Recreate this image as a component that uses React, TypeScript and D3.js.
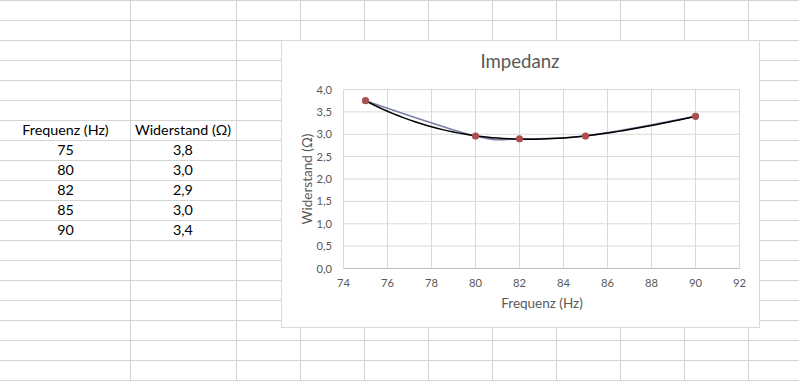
import React from "react";
import * as d3 from "d3";

const frequencies = [75, 80, 82, 85, 90];
const resistances = [3.75, 2.96, 2.9, 2.96, 3.4];
const xTicks = [74, 76, 78, 80, 82, 84, 86, 88, 90, 92];
const yTicks = [0, 0.5, 1, 1.5, 2, 2.5, 3, 3.5, 4];
const headerLabels = ["Frequenz (Hz)", "Widerstand (Ω)"];
const chartTitle = "Impedanz";
const xTitle = "Frequenz (Hz)";
const yTitle = "Widerstand (Ω)";
const trendOrder = 3;

const W = 799;
const H = 381;

// spreadsheet geometry
const colEdges = [130, 236, 300, 364, 428, 492, 556, 620, 684, 748];
const rowEdges = d3.range(0, 400, 20);

function polyFit(xs: number[], ys: number[], order: number) {
  // least squares polynomial fit (Excel polynomial trendline)
  const n = xs.length;
  const mx = d3.mean(xs) as number;
  const u = xs.map((x) => x - mx);
  const m = order + 1;
  const M: number[][] = [];
  for (let r = 0; r < m; r++) {
    const row: number[] = [];
    for (let c = 0; c < m; c++) row.push(d3.sum(d3.range(n), (i) => u[i] ** (r + c)));
    row.push(d3.sum(d3.range(n), (i) => u[i] ** r * ys[i]));
    M.push(row);
  }
  for (let i = 0; i < m; i++) {
    let p = i;
    for (let j = i + 1; j < m; j++) if (Math.abs(M[j][i]) > Math.abs(M[p][i])) p = j;
    [M[i], M[p]] = [M[p], M[i]];
    for (let j = i + 1; j < m; j++) {
      const f = M[j][i] / M[i][i];
      for (let k = i; k <= m; k++) M[j][k] -= f * M[i][k];
    }
  }
  const coef = new Array(m).fill(0);
  for (let i = m - 1; i >= 0; i--) {
    let s = M[i][m];
    for (let k = i + 1; k < m; k++) s -= M[i][k] * coef[k];
    coef[i] = s / M[i][i];
  }
  return (x: number) => coef.reduce((acc, c, k) => acc + c * (x - mx) ** k, 0);
}

export default function App() {
  const x = d3.scaleLinear().domain([74, 92]).range([343.5, 739.5]);
  const y = d3.scaleLinear().domain([0, 4]).range([268.5, 89.5]);
  const fmt = (v: number) => d3.format(".1f")(v).replace(".", ",");

  const pts: [number, number][] = frequencies.map((f, i) => [x(f), y(resistances[i])]);
  const seriesPath = d3.line().curve(d3.curveCardinal.tension(0))(pts) || "";

  const fit = polyFit(frequencies, resistances, trendOrder);
  const trendX = d3.range(75, 90.001, 0.25);
  const trendPath =
    d3
      .line<number>()
      .x((v) => x(v))
      .y((v) => y(fit(v)))(trendX) || "";

  const gridColor = "#d4d4d4";
  const chartFont = "Lato, 'Open Sans', sans-serif";
  const textGrey = "#595959";

  return (
    <div style={{ position: "absolute", left: 0, top: 0 }}>
      <svg width={W} height={H} style={{ display: "block", background: "#fff" }}>
        {/* spreadsheet grid */}
        {colEdges.map((c) => (
          <line key={"c" + c} x1={c + 0.5} x2={c + 0.5} y1={0} y2={H} stroke={gridColor} />
        ))}
        {rowEdges.map((r) => (
          <line key={"r" + r} x1={0} x2={W} y1={r + 0.5} y2={r + 0.5} stroke={gridColor} />
        ))}
        {/* table */}
        <g fontFamily={chartFont} fontSize={14.3} fill="#000" textAnchor="middle">
          <text x={65.5} y={135}>{headerLabels[0]}</text>
          <text x={183} y={135}>{headerLabels[1]}</text>
          {frequencies.map((f, i) => (
            <g key={f}>
              <text x={65.5} y={155 + i * 20}>{String(f)}</text>
              <text x={183} y={155 + i * 20}>{fmt(resistances[i])}</text>
            </g>
          ))}
        </g>
        {/* chart area */}
        <rect x={281.5} y={40.5} width={478} height={287} fill="#fff" stroke="#d9d9d9" />
        <text x={520} y={68} textAnchor="middle" fontFamily={chartFont} fontSize={18.6} fill={textGrey}>
          {chartTitle}
        </text>
        {/* gridlines */}
        {yTicks.slice(1).map((t) => (
          <line key={"gy" + t} x1={x(74)} x2={x(92)} y1={y(t)} y2={y(t)} stroke="#d9d9d9" />
        ))}
        {xTicks.map((t) => (
          <line key={"gx" + t} x1={x(t)} x2={x(t)} y1={y(0)} y2={y(4)} stroke="#d9d9d9" />
        ))}
        <line x1={x(74)} x2={x(92)} y1={y(0)} y2={y(0)} stroke="#bfbfbf" />
        {/* tick labels */}
        <g fontFamily={chartFont} fontSize={11.2} fill={textGrey}>
          {yTicks.map((t) => (
            <text key={"ty" + t} x={332} y={y(t) + 4} textAnchor="end">
              {fmt(t)}
            </text>
          ))}
          {xTicks.map((t) => (
            <text key={"tx" + t} x={x(t)} y={287} textAnchor="middle">
              {String(t)}
            </text>
          ))}
        </g>
        {/* axis titles */}
        <text x={542} y={307.5} textAnchor="middle" fontFamily={chartFont} fontSize={13.5} fill={textGrey}>
          {xTitle}
        </text>
        <text
          transform={`translate(312, ${(y(0) + y(4)) / 2}) rotate(-90)`}
          textAnchor="middle"
          fontFamily={chartFont}
          fontSize={13.5}
          fill={textGrey}
        >
          {yTitle}
        </text>
        {/* series */}
        <path d={seriesPath} fill="none" stroke="#7a7fa6" strokeWidth={1.6} />
        <path d={trendPath} fill="none" stroke="#000" strokeWidth={1.5} />
        {pts.map((p, i) => (
          <circle key={i} cx={p[0]} cy={p[1]} r={3.6} fill="#a8504d" />
        ))}
      </svg>
    </div>
  );
}
